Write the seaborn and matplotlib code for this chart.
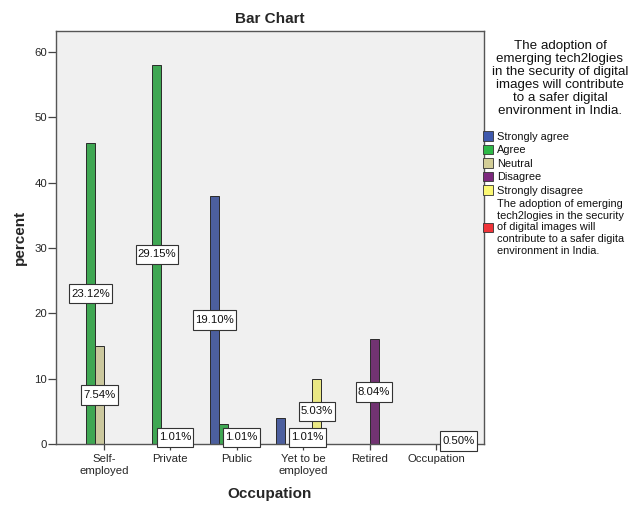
import matplotlib
matplotlib.use("Agg")
import matplotlib.pyplot as plt
from matplotlib.patches import Patch
from matplotlib.path import Path
import seaborn as sns
import pandas as pd

# Survey responses by occupation (counts); labels show share of all respondents
occupations = ["Self-employed", "Private", "Public", "Yet to be employed", "Retired", "Occupation"]
tick_labels = ["Self-\nemployed", "Private", "Public", "Yet to be\nemployed", "Retired", "Occupation"]
question = ("The adoption of\nemerging tech2logies\nin the security of digital\n"
            "images will contribute\nto a safer digital\nenvironment in India.")
responses = ["Strongly agree", "Agree", "Neutral", "Disagree", "Strongly disagree",
             "The adoption of emerging\ntech2logies in the security\nof digital images will\n"
             "contribute to a safer digita\nenvironment in India."]
colors = ["#3E58AC", "#2EB848", "#D3CE97", "#7C287D", "#FBF873", "#EF3338"]
total_n = 199

row_occupation = ["Self-employed", "Self-employed", "Private", "Private",
                  "Public", "Public", "Public",
                  "Yet to be employed", "Yet to be employed", "Yet to be employed",
                  "Retired", "Occupation"]
row_response = [responses[1], responses[2], responses[1], responses[3],
                responses[0], responses[1], responses[3],
                responses[0], responses[3], responses[4],
                responses[3], responses[5]]
row_count = [46, 15, 58, 2, 38, 3, 2, 4, 2, 10, 16, 1]
row_labelled = [True, True, True, True, True, False, True, False, True, True, True, True]

df = pd.DataFrame({"occupation": row_occupation, "response": row_response,
                   "count": row_count, "labelled": row_labelled})

sns.set_style("white")
plt.rcParams["font.family"] = ["Liberation Sans", "DejaVu Sans"]


def label_box(x0, y0, width, height, mutation_size):
    """Rectangle with more vertical than horizontal padding."""
    px = 0.18 * mutation_size
    py = 0.42 * mutation_size
    return Path([(x0 - px, y0 - py), (x0 + width + px, y0 - py),
                 (x0 + width + px, y0 + height + py), (x0 - px, y0 + height + py),
                 (x0 - px, y0 - py)], closed=True)


fig = plt.figure(figsize=(6.3, 5.07), dpi=100)
ax = fig.add_axes([56 / 630, 1 - 444 / 507, (484 - 56) / 630, (444 - 31) / 507])
ax.set_facecolor("#F0F0F0")

sns.barplot(data=df, x="occupation", y="count", hue="response",
            order=occupations, hue_order=responses, palette=colors,
            width=0.813, edgecolor="#2A2A2A", linewidth=0.7,
            legend=False, ax=ax, zorder=2)

# value labels: boxed percentage at the middle of each bar
order_idx = {o: i for i, o in enumerate(occupations)}
for resp, cont in zip(responses, ax.containers):
    sub = df[df["response"] == resp].copy()
    sub["pos"] = sub["occupation"].map(order_idx)
    sub = sub.sort_values("pos")
    for bar, (_, row) in zip(cont, sub.iterrows()):
        if not row["labelled"]:
            continue
        xc = bar.get_x() + bar.get_width() / 2
        ax.text(xc, bar.get_height() / 2, f"{row['count'] / total_n * 100:.2f}%",
                ha="center", va="center", fontsize=8.2, color="#111111",
                zorder=5, clip_on=False,
                bbox=dict(boxstyle=label_box, facecolor="white",
                          edgecolor="#333333", linewidth=0.8))

ax.set_xlim(-0.723, 5.723)
ax.set_ylim(0, 63.2)
ax.set_yticks(range(0, 61, 10))
ax.set_xticks(range(len(occupations)))
ax.set_xticklabels(tick_labels)

for side in ["left", "right", "top", "bottom"]:
    ax.spines[side].set_visible(True)
    ax.spines[side].set_color("#555555")
    ax.spines[side].set_linewidth(1.0)
ax.spines["bottom"].set_zorder(3)

ax.tick_params(axis="y", direction="out", length=5.5, width=0.9, color="#444444",
               labelsize=8.2, pad=1, left=True)
ax.tick_params(axis="x", direction="out", length=4.5, width=0.9, color="#444444",
               labelsize=8.2, pad=3, bottom=True)

ax.set_title("Bar Chart", fontsize=11, fontweight="bold", pad=6)
ax.set_xlabel("Occupation", fontsize=11, fontweight="bold")
ax.set_ylabel("percent", fontsize=11, fontweight="bold")
ax.xaxis.set_label_coords(0.5, -0.105)
ax.yaxis.set_label_coords(-0.068, 0.5)

# legend header (the survey statement) and the response keys
fig.text(560 / 630, 1 - 40 / 507, question, ha="center", va="top",
         multialignment="center", fontsize=9.6, linespacing=1.12, color="#111111")

handles = [Patch(facecolor=c, edgecolor="#333333", linewidth=0.6) for c in colors]
leg = fig.legend(handles, responses,
                 loc="upper left", bbox_to_anchor=(478 / 630, 1 - 126 / 507),
                 frameon=False, fontsize=7.9,
                 borderpad=0, handlelength=0.9, handleheight=0.95,
                 handletextpad=0.3, labelspacing=0.27)
for t in leg.get_texts():
    t.set_linespacing(1.22)
    t.set_color("#111111")

fig.savefig("out.png", dpi=100, facecolor="white")
